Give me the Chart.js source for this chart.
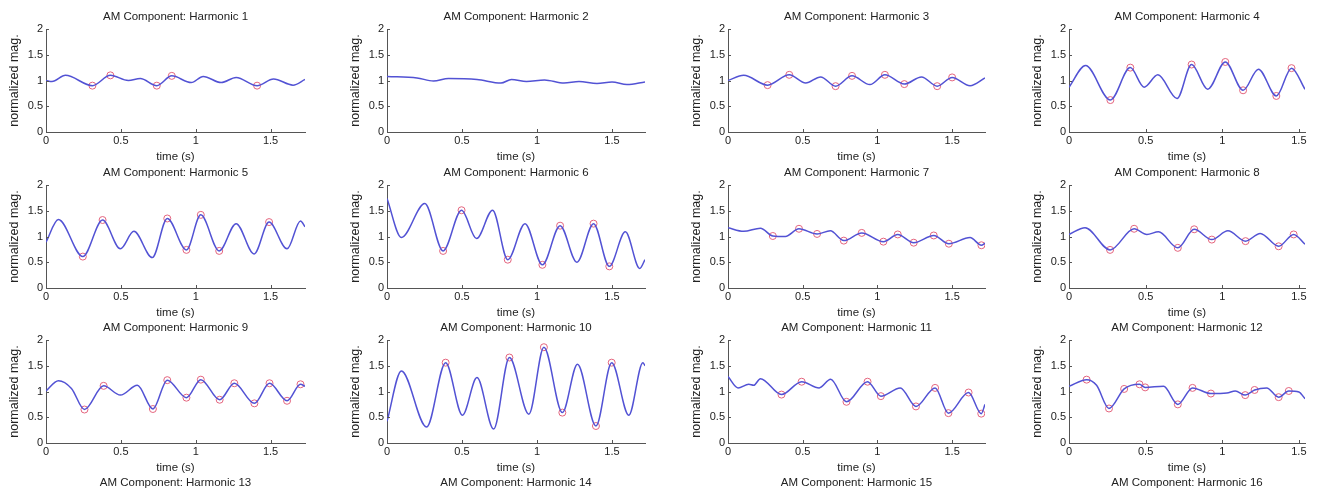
<!DOCTYPE html>
<html lang="en">
<head>
<meta charset="UTF-8">
<title>AM Components</title>
<script src="https://cdn.jsdelivr.net/npm/chart.js"></script>
<style>
  html, body { margin: 0; padding: 0; overflow: hidden; background: #fff; }
  body { width: 1322px; height: 495px; position: relative; font-family: "Liberation Sans", Arial, sans-serif; }
  canvas { position: absolute; }
  .cut-title { position: absolute; font-size: 11.5px; line-height: 13px; color: #222; white-space: nowrap; transform: translateX(-50%); }
</style>
</head>
<body>
<script>
// harmonic titles (13-16 belong to the next row, cut off at the bottom)
const titles = ['AM Component: Harmonic 1', 'AM Component: Harmonic 2', 'AM Component: Harmonic 3', 'AM Component: Harmonic 4',
                'AM Component: Harmonic 5', 'AM Component: Harmonic 6', 'AM Component: Harmonic 7', 'AM Component: Harmonic 8',
                'AM Component: Harmonic 9', 'AM Component: Harmonic 10', 'AM Component: Harmonic 11', 'AM Component: Harmonic 12'];
const cutTitles = ['AM Component: Harmonic 13', 'AM Component: Harmonic 14', 'AM Component: Harmonic 15', 'AM Component: Harmonic 16'];
const xLimits = [1.73, 1.72, 1.72, 1.54];
const yTicks = [0, 0.5, 1, 1.5, 2];
const xTicks = [0, 0.5, 1, 1.5];

// curve key points (time in s, normalized magnitude) and circled points
const t1 = [0, 0.04, 0.13, 0.31, 0.43, 0.55, 0.63, 0.74, 0.84, 0.97, 1.05, 1.17, 1.27, 1.41, 1.52, 1.65, 1.73];
const v1 = [1.0, 0.98, 1.10, 0.90, 1.10, 1.00, 1.04, 0.90, 1.09, 0.96, 1.08, 0.96, 1.06, 0.90, 1.03, 0.91, 1.02];
const mt1 = [0.31, 0.43, 0.74, 0.84, 1.41];
const mv1 = [0.90, 1.10, 0.90, 1.09, 0.90];

const t2 = [0, 0.2, 0.31, 0.41, 0.6, 0.76, 0.83, 0.93, 1.05, 1.18, 1.28, 1.4, 1.5, 1.6, 1.72];
const v2 = [1.08, 1.05, 0.99, 1.04, 1.02, 0.95, 1.02, 0.98, 1.01, 0.95, 0.98, 0.94, 0.97, 0.92, 0.97];
const mt2 = [];
const mv2 = [];

const t3 = [0, 0.105, 0.265, 0.41, 0.52, 0.62, 0.72, 0.83, 0.95, 1.05, 1.18, 1.295, 1.40, 1.50, 1.62, 1.72];
const v3 = [1.0, 1.10, 0.91, 1.11, 0.95, 1.07, 0.89, 1.09, 0.92, 1.11, 0.93, 1.07, 0.89, 1.06, 0.90, 1.05];
const mt3 = [0.265, 0.41, 0.72, 0.83, 1.05, 1.18, 1.40, 1.50];
const mv3 = [0.91, 1.11, 0.89, 1.09, 1.11, 0.93, 0.89, 1.06];

const t4 = [0, 0.108, 0.27, 0.40, 0.49, 0.58, 0.705, 0.80, 0.905, 1.02, 1.136, 1.236, 1.353, 1.452, 1.54];
const v4 = [0.87, 1.29, 0.62, 1.25, 0.87, 1.11, 0.65, 1.31, 0.83, 1.36, 0.81, 1.22, 0.70, 1.24, 0.83];
const mt4 = [0.27, 0.40, 0.80, 1.02, 1.136, 1.353, 1.452];
const mv4 = [0.62, 1.25, 1.31, 1.36, 0.81, 0.70, 1.24];

const t5 = [0, 0.083, 0.246, 0.378, 0.497, 0.587, 0.71, 0.81, 0.938, 1.034, 1.157, 1.27, 1.39, 1.49, 1.61, 1.70, 1.73];
const v5 = [0.89, 1.33, 0.61, 1.32, 0.76, 1.10, 0.59, 1.35, 0.74, 1.42, 0.72, 1.25, 0.66, 1.28, 0.76, 1.30, 1.19];
const mt5 = [0.246, 0.378, 0.81, 0.938, 1.034, 1.157, 1.49];
const mv5 = [0.61, 1.32, 1.35, 0.74, 1.42, 0.72, 1.28];

const t6 = [0, 0.096, 0.252, 0.374, 0.497, 0.597, 0.704, 0.805, 0.92, 1.036, 1.154, 1.266, 1.377, 1.482, 1.589, 1.685, 1.72];
const v6 = [1.74, 0.98, 1.64, 0.72, 1.51, 0.96, 1.51, 0.55, 1.25, 0.45, 1.21, 0.50, 1.25, 0.42, 1.09, 0.38, 0.55];
const mt6 = [0.374, 0.497, 0.805, 1.036, 1.154, 1.377, 1.482];
const mv6 = [0.72, 1.51, 0.55, 0.45, 1.21, 1.25, 0.42];

const t7 = [0, 0.105, 0.217, 0.30, 0.384, 0.475, 0.596, 0.685, 0.775, 0.895, 1.04, 1.136, 1.243, 1.377, 1.478, 1.62, 1.696, 1.72];
const v7 = [1.17, 1.10, 1.16, 1.01, 1.00, 1.15, 1.05, 1.11, 0.92, 1.07, 0.90, 1.04, 0.88, 1.02, 0.86, 0.98, 0.83, 0.87];
const mt7 = [0.30, 0.475, 0.596, 0.775, 0.895, 1.04, 1.136, 1.243, 1.377, 1.478, 1.696];
const mv7 = [1.01, 1.15, 1.05, 0.92, 1.07, 0.90, 1.04, 0.88, 1.02, 0.86, 0.83];

const t8 = [0, 0.105, 0.268, 0.425, 0.508, 0.584, 0.71, 0.817, 0.932, 1.037, 1.152, 1.248, 1.368, 1.466, 1.54];
const v8 = [1.04, 1.17, 0.74, 1.15, 1.04, 1.09, 0.78, 1.14, 0.94, 1.11, 0.91, 1.06, 0.81, 1.04, 0.85];
const mt8 = [0.268, 0.425, 0.71, 0.817, 0.932, 1.152, 1.368, 1.466];
const mv8 = [0.74, 1.15, 0.78, 1.14, 0.94, 0.91, 0.81, 1.04];

const t9 = [0, 0.083, 0.17, 0.257, 0.385, 0.497, 0.61, 0.714, 0.81, 0.938, 1.034, 1.16, 1.258, 1.392, 1.493, 1.61, 1.70, 1.73];
const v9 = [1.01, 1.21, 1.06, 0.65, 1.11, 0.93, 1.12, 0.66, 1.22, 0.88, 1.23, 0.84, 1.16, 0.77, 1.16, 0.82, 1.14, 1.10];
const mt9 = [0.257, 0.385, 0.714, 0.81, 0.938, 1.034, 1.16, 1.258, 1.392, 1.493, 1.61, 1.70];
const mv9 = [0.65, 1.11, 0.66, 1.22, 0.88, 1.23, 0.84, 1.16, 0.77, 1.16, 0.82, 1.14];

const t10 = [0, 0.096, 0.264, 0.391, 0.503, 0.60, 0.711, 0.816, 0.946, 1.046, 1.169, 1.27, 1.393, 1.498, 1.612, 1.706, 1.72];
const v10 = [0.42, 1.40, 0.31, 1.56, 0.54, 1.27, 0.27, 1.66, 0.56, 1.86, 0.59, 1.53, 0.33, 1.56, 0.54, 1.56, 1.50];
const mt10 = [0.391, 0.816, 1.046, 1.169, 1.393, 1.498];
const mv10 = [1.56, 1.66, 1.86, 0.59, 0.33, 1.56];

const t11 = [0, 0.067, 0.139, 0.172, 0.217, 0.358, 0.493, 0.61, 0.687, 0.793, 0.934, 1.023, 1.153, 1.258, 1.386, 1.475, 1.61, 1.695, 1.72];
const v11 = [1.29, 1.07, 1.14, 1.12, 1.25, 0.94, 1.19, 1.07, 1.24, 0.80, 1.19, 0.91, 1.07, 0.71, 1.07, 0.58, 0.98, 0.57, 0.75];
const mt11 = [0.358, 0.493, 0.793, 0.934, 1.023, 1.258, 1.386, 1.475, 1.61, 1.695];
const mv11 = [0.94, 1.19, 0.80, 1.19, 0.91, 0.71, 1.07, 0.58, 0.98, 0.57];

const t12 = [0, 0.115, 0.18, 0.261, 0.36, 0.46, 0.497, 0.617, 0.71, 0.806, 0.926, 1.03, 1.085, 1.15, 1.211, 1.29, 1.368, 1.434, 1.50, 1.54];
const v12 = [1.10, 1.23, 1.12, 0.67, 1.05, 1.14, 1.08, 1.10, 0.75, 1.07, 0.96, 0.97, 1.01, 0.93, 1.03, 1.07, 0.89, 1.01, 0.99, 0.86];
const mt12 = [0.115, 0.261, 0.36, 0.46, 0.497, 0.71, 0.806, 0.926, 1.15, 1.211, 1.368, 1.434];
const mv12 = [1.23, 0.67, 1.05, 1.14, 1.08, 0.75, 1.07, 0.96, 0.93, 1.03, 0.89, 1.01];

const curves = [[t1, v1], [t2, v2], [t3, v3], [t4, v4], [t5, v5], [t6, v6], [t7, v7], [t8, v8], [t9, v9], [t10, v10], [t11, v11], [t12, v12]];
const marks = [[mt1, mv1], [mt2, mv2], [mt3, mv3], [mt4, mv4], [mt5, mv5], [mt6, mv6], [mt7, mv7], [mt8, mv8], [mt9, mv9], [mt10, mv10], [mt11, mv11], [mt12, mv12]];

// page layout of the subplot grid
const axisLeft = [46, 387, 728, 1069];
const plotWidth = [259, 258, 257, 236];
const plotTop = [29, 185, 340];
const plotHeight = 103;
const yAxisW = 46, topBlock = 29, xAxisH = 34, padRight = 6;

const family = '"Liberation Sans", Arial, sans-serif';
const tickFont = { family: family, size: 11 };
const labelFont = { family: family, size: 11.5 };
const yLabelFont = { family: family, size: 12.5 };
const textColor = '#222';
const axisColor = '#555';

const zip = (xs, ys) => xs.map((x, i) => ({ x: x, y: ys[i] }));
const plain = v => String(v);

// small inward tick marks like the original axes
const innerTicks = {
    id: 'innerTicks',
    afterDraw(chart) {
        const { ctx, chartArea: a, scales: { x, y } } = chart;
        ctx.save();
        ctx.strokeStyle = axisColor;
        ctx.lineWidth = 1;
        ctx.beginPath();
        x.ticks.forEach(t => {
            const px = Math.round(x.getPixelForValue(t.value)) + 0.5;
            ctx.moveTo(px, a.bottom);
            ctx.lineTo(px, a.bottom - 3);
        });
        y.ticks.forEach(t => {
            const py = Math.round(y.getPixelForValue(t.value)) + 0.5;
            ctx.moveTo(a.left, py);
            ctx.lineTo(a.left + 3, py);
        });
        ctx.stroke();
        ctx.restore();
    }
};

titles.forEach((title, i) => {
    const row = Math.floor(i / 4), col = i % 4;
    const canvas = document.createElement('canvas');
    canvas.width = yAxisW + plotWidth[col] + padRight;
    canvas.height = topBlock + plotHeight + xAxisH;
    canvas.style.left = (axisLeft[col] - yAxisW) + 'px';
    canvas.style.top = (plotTop[row] - topBlock) + 'px';
    document.body.appendChild(canvas);

    new Chart(canvas, {
        type: 'line',
        data: {
            datasets: [{
                data: zip(curves[i][0], curves[i][1]),
                borderColor: 'rgb(82, 82, 212)',
                borderWidth: 1.5,
                pointRadius: 0,
                cubicInterpolationMode: 'monotone',
                fill: false
            }, {
                data: zip(marks[i][0], marks[i][1]),
                showLine: false,
                pointRadius: 3.5,
                pointStyle: 'circle',
                pointBorderWidth: 1,
                pointBorderColor: 'rgb(228, 100, 125)',
                pointBackgroundColor: 'rgba(0,0,0,0)'
            }]
        },
        plugins: [innerTicks],
        options: {
            responsive: false,
            animation: false,
            events: [],
            layout: { padding: { left: 0, right: padRight, top: 0, bottom: 0 } },
            plugins: {
                legend: { display: false },
                tooltip: { enabled: false },
                title: {
                    display: true,
                    text: title,
                    fullSize: false,
                    color: textColor,
                    font: { ...labelFont, weight: 'normal' },
                    padding: { top: 10.1, bottom: 5.1 }
                }
            },
            scales: {
                x: {
                    type: 'linear',
                    min: 0,
                    max: xLimits[col],
                    afterFit: s => { s.height = xAxisH; },
                    afterBuildTicks: s => { s.ticks = xTicks.map(v => ({ value: v })); },
                    grid: { display: false, drawTicks: false },
                    border: { display: true, color: axisColor, width: 1 },
                    ticks: { padding: 2, color: textColor, font: tickFont, maxRotation: 0, autoSkip: false, callback: plain },
                    title: { display: true, text: 'time (s)', color: textColor, font: labelFont, padding: { top: 0, bottom: 2.1 } }
                },
                y: {
                    min: 0,
                    max: 2,
                    afterFit: s => { s.width = yAxisW; },
                    afterBuildTicks: s => { s.ticks = yTicks.map(v => ({ value: v })); },
                    grid: { display: false, drawTicks: false },
                    border: { display: true, color: axisColor, width: 1 },
                    ticks: { padding: 3, color: textColor, font: tickFont, autoSkip: false, callback: plain },
                    title: { display: true, text: 'normalized mag.', color: textColor, font: yLabelFont, padding: { top: 7.5, bottom: 0 } }
                }
            }
        }
    });
});

// titles of the next row of subplots, cut off by the figure edge
cutTitles.forEach((text, col) => {
    const div = document.createElement('div');
    div.className = 'cut-title';
    div.textContent = text;
    div.style.left = (axisLeft[col] + plotWidth[col] / 2) + 'px';
    div.style.top = '476px';
    document.body.appendChild(div);
});
</script>
</body>
</html>
